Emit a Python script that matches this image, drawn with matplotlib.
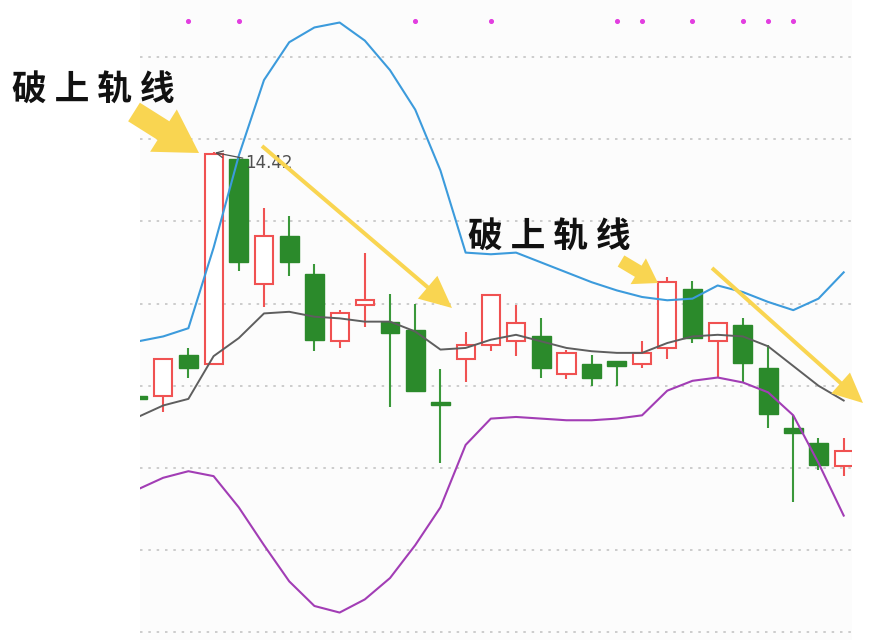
import matplotlib
matplotlib.use("Agg")
import matplotlib.pyplot as plt
from matplotlib.patches import FancyArrow
import numpy as np

plt.rcParams["font.family"] = ["Noto Sans CJK SC", "DejaVu Sans"]

# candles (open, high, low, close), one per trading day
opens = [12.94, 12.94, 13.19, 13.13, 14.38, 13.62, 13.91, 13.68, 13.27, 13.49,
         13.39, 13.34, 12.90, 13.16, 13.25, 13.27, 13.30, 13.07, 13.13, 13.15,
         13.13, 13.23, 13.59, 13.27, 13.37, 13.11, 12.74, 12.65, 12.51]
highs = [12.94, 13.16, 13.23, 14.42, 14.39, 14.08, 14.03, 13.74, 13.46, 13.81,
         13.56, 13.50, 13.10, 13.33, 13.55, 13.49, 13.41, 13.22, 13.19, 13.15,
         13.27, 13.66, 13.64, 13.39, 13.41, 13.25, 12.82, 12.68, 12.68]
lows = [12.92, 12.84, 13.05, 13.13, 13.70, 13.48, 13.67, 13.21, 13.23, 13.36,
        12.87, 12.97, 12.53, 13.02, 13.21, 13.18, 13.05, 13.04, 13.00, 13.00,
        13.11, 13.16, 13.26, 13.05, 13.02, 12.74, 12.29, 12.49, 12.45]
closes = [12.92, 13.16, 13.11, 14.41, 13.75, 13.91, 13.75, 13.28, 13.44, 13.52,
          13.32, 12.97, 12.88, 13.25, 13.55, 13.38, 13.11, 13.20, 13.05, 13.12,
          13.20, 13.63, 13.29, 13.38, 13.14, 12.83, 12.71, 12.52, 12.60]

# bollinger bands
boll_upper = [13.27, 13.30, 13.35, 13.84, 14.40, 14.86, 15.09, 15.18, 15.21, 15.10,
              14.92, 14.68, 14.31, 13.81, 13.80, 13.81, 13.75, 13.69, 13.63, 13.58,
              13.54, 13.52, 13.53, 13.61, 13.57, 13.51, 13.46, 13.53, 13.69]
boll_mid = [12.81, 12.88, 12.92, 13.18, 13.29, 13.44, 13.45, 13.42, 13.41, 13.39,
            13.39, 13.33, 13.22, 13.23, 13.28, 13.31, 13.27, 13.23, 13.21, 13.20,
            13.20, 13.26, 13.30, 13.31, 13.30, 13.24, 13.12, 13.00, 12.91]
boll_lower = [12.37, 12.44, 12.48, 12.45, 12.26, 12.03, 11.81, 11.66, 11.62, 11.70,
              11.83, 12.03, 12.26, 12.64, 12.80, 12.81, 12.80, 12.79, 12.79, 12.80,
              12.82, 12.97, 13.03, 13.05, 13.02, 12.96, 12.82, 12.53, 12.21]

# days carrying a signal dot at the top
signal_days = [2, 4, 11, 14, 19, 20, 22, 24, 25, 26]

grid_levels = [11.5, 12.0, 12.5, 13.0, 13.5, 14.0, 14.5, 15.0]

label_text = "破 上 轨 线"

RED = "#f05252"
GREEN = "#2b8a2b"
YELLOW = "#f9d551"

fig = plt.figure(figsize=(8.71, 6.4), dpi=100)
ax = fig.add_axes([140 / 871, 0, 712 / 871, 1])
ax.set_facecolor("#fcfcfc")

days = np.arange(len(opens))
o = np.array(opens)
c = np.array(closes)
up = c >= o

# wicks
ax.vlines(days[up], np.array(lows)[up], np.array(highs)[up], color=RED, lw=1.5, zorder=2)
ax.vlines(days[~up], np.array(lows)[~up], np.array(highs)[~up], color="#3a983a", lw=1.5, zorder=2)

# bodies
bottoms = np.minimum(o, c)
heights = np.maximum(np.abs(c - o), 0.02)
ax.bar(days[up], heights[up], bottom=bottoms[up], width=0.72, facecolor="white",
       edgecolor=RED, linewidth=1.5, zorder=3)
ax.bar(days[~up], heights[~up], bottom=bottoms[~up], width=0.75, facecolor=GREEN,
       edgecolor=GREEN, linewidth=1.0, zorder=3)

# bands
ax.plot(days, boll_upper, color="#3c9bdc", lw=1.5, zorder=4)
ax.plot(days, boll_mid, color="#5e5e5e", lw=1.4, zorder=4)
ax.plot(days, boll_lower, color="#a23db5", lw=1.5, zorder=4)

# signal dots
ax.scatter(signal_days, [0.967] * len(signal_days), s=7, color="#e23ee0",
           transform=ax.get_xaxis_transform(), zorder=5, clip_on=False)

# highest high label
top = int(np.argmax(highs))
ax.annotate(f"{highs[top]:.2f}", xy=(days[top], highs[top]), xytext=(32, -11),
            textcoords="offset pixels", ha="left", va="center", fontsize=12,
            color="#505050", family="DejaVu Sans", zorder=6,
            arrowprops=dict(arrowstyle="->", color="#505050", lw=0.9,
                            shrinkA=0, shrinkB=1))

ax.set_xlim(0.08, 28.33)
ax.set_ylim(11.453, 15.347)
ax.set_yticks(grid_levels)
ax.grid(axis="y", color="#c4c4c4", linestyle=(0, (1.5, 3.5)), lw=1.2)
ax.set_axisbelow(True)
ax.tick_params(left=False, bottom=False, labelleft=False, labelbottom=False)
for s in ax.spines.values():
    s.set_visible(False)

# annotation layer in figure pixels
over = fig.add_axes([0, 0, 1, 1], facecolor="none")
over.set_xlim(0, 871)
over.set_ylim(640, 0)
over.axis("off")


def fat_arrow(x0, y0, x1, y1, width, head_width, head_length):
    over.add_patch(FancyArrow(x0, y0, x1 - x0, y1 - y0, width=width,
                              head_width=head_width, head_length=head_length,
                              length_includes_head=True, color=YELLOW, lw=0,
                              zorder=7))


fat_arrow(134, 112, 199, 153, 22, 50, 42)
fat_arrow(262, 146, 452, 308, 4, 30, 32)
fat_arrow(621, 261, 658, 283, 13, 30, 23)
fat_arrow(712, 268, 863, 403, 4, 28, 30)

over.text(93, 90, label_text, ha="center", va="center", fontsize=25,
          fontweight="bold", color="#111111")
over.text(549, 237, label_text, ha="center", va="center", fontsize=25,
          fontweight="bold", color="#111111")

fig.savefig("out.png", dpi=100)
